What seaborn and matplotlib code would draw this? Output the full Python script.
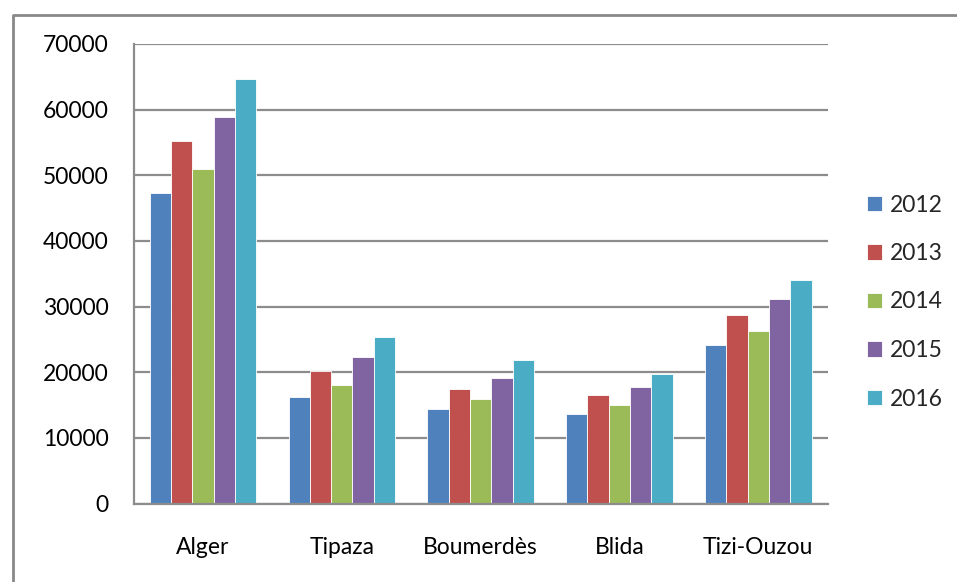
# Grouped bar chart - regions by year (Excel style)
#====================================================================================

import pandas as pd
import seaborn as sns
from matplotlib import pyplot as plt
from matplotlib.lines import Line2D

# Data
regions = ['Alger', 'Tipaza', 'Boumerdès', 'Blida', 'Tizi-Ouzou']
years = ['2012', '2013', '2014', '2015', '2016']
v2012 = [47300, 16300, 14400, 13600, 24100]
v2013 = [55200, 20200, 17400, 16500, 28700]
v2014 = [50900, 18000, 15900, 15000, 26300]
v2015 = [58900, 22300, 19100, 17800, 31100]
v2016 = [64700, 25300, 21800, 19800, 34000]

colors = ['#4F81BD', '#C0504D', '#9BBB59', '#8064A2', '#4BACC6']
grey = '#8C8C8C'

# Long table for seaborn
rows = []
for year, vals in zip(years, [v2012, v2013, v2014, v2015, v2016]):
    for reg, v in zip(regions, vals):
        rows.append({'region': reg, 'year': year, 'value': v})
tableau = pd.DataFrame(rows)

sns.set_style('white')
plt.rcParams['font.family'] = ['Lato', 'DejaVu Sans']
fs = 16.5

fig = plt.figure(figsize=(9.57, 5.82), dpi=100)
ax = fig.add_axes([133.5 / 957, 1 - 503.5 / 582, (827.7 - 133.5) / 957, (503.5 - 44) / 582])

sns.barplot(data=tableau, x='region', y='value', hue='year', order=regions,
            hue_order=years, palette=colors, saturation=1, width=0.767, gap=0,
            edgecolor='white', linewidth=0.6, ax=ax, legend=True)

# Axes
ax.set_ylim(0, 70000)
ax.set_xlim(-0.5, 4.5)
ax.set_yticks(range(0, 70001, 10000))
ax.yaxis.grid(True, color=grey, linewidth=1.6)
ax.set_axisbelow(True)
ax.set_xlabel('')
ax.set_ylabel('')
for side in ['top', 'right']:
    ax.spines[side].set_visible(False)
for side in ['left', 'bottom']:
    ax.spines[side].set_color(grey)
    ax.spines[side].set_linewidth(1.6)

# category boundaries as major ticks, names on minor ticks
ax.set_xticks([i - 0.5 for i in range(6)])
ax.set_xticklabels([''] * 6)
ax.set_xticks(range(5), minor=True)
ax.set_xticklabels(regions, minor=True)
ax.tick_params(axis='x', which='major', length=5, width=1.6, color=grey, direction='out')
ax.tick_params(axis='x', which='minor', length=0, pad=24, labelsize=fs, labelcolor='black')
ax.tick_params(axis='y', length=6, width=1.6, color=grey, direction='out', pad=12,
               labelsize=fs, labelcolor='black')

# Legend
handles, labels = ax.get_legend_handles_labels()
ax.legend(handles, labels, loc='center left', bbox_to_anchor=(867 / 957, 1 - 302 / 582),
          bbox_transform=fig.transFigure, frameon=False, fontsize=fs,
          handlelength=0.65, handleheight=0.65, handletextpad=0.35, labelspacing=1.2,
          borderpad=0, borderaxespad=0)

# Outer chart border (cropped on right and bottom)
fig.add_artist(Line2D([12.5 / 957, 12.5 / 957, 1.0], [0.0, 1 - 15 / 582, 1 - 15 / 582],
                      transform=fig.transFigure, color='#898989', linewidth=2))

plt.savefig('out.png', dpi=100)
